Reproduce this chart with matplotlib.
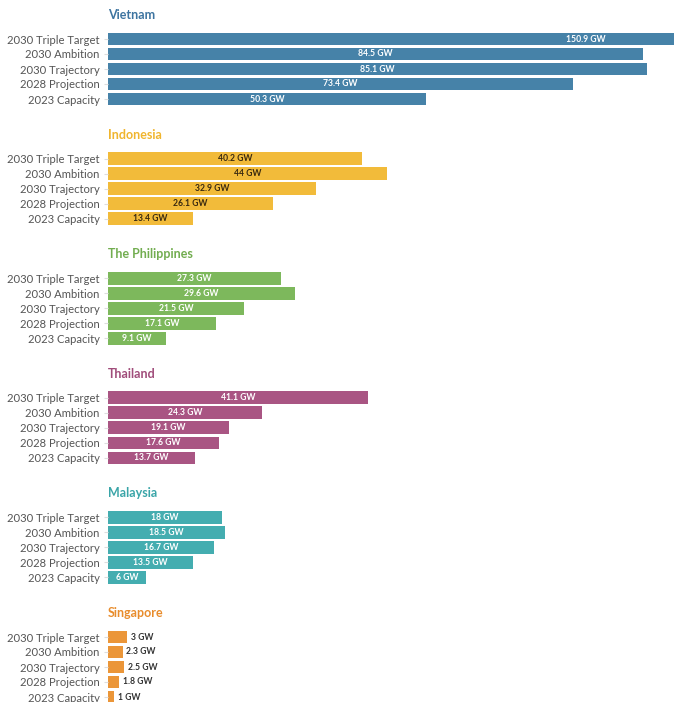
import matplotlib
matplotlib.use("Agg")
import matplotlib.pyplot as plt

plt.rcParams['font.family'] = ['Lato', 'DejaVu Sans']

categories = ["2030 Triple Target", "2030 Ambition", "2030 Trajectory",
              "2028 Projection", "2023 Capacity"]

countries = ["Vietnam", "Indonesia", "The Philippines", "Thailand", "Malaysia", "Singapore"]

vietnam = [150.9, 84.5, 85.1, 73.4, 50.3]
indonesia = [40.2, 44, 32.9, 26.1, 13.4]
philippines = [27.3, 29.6, 21.5, 17.1, 9.1]
thailand = [41.1, 24.3, 19.1, 17.6, 13.7]
malaysia = [18, 18.5, 16.7, 13.5, 6]
singapore = [3, 2.3, 2.5, 1.8, 1]

values = [vietnam, indonesia, philippines, thailand, malaysia, singapore]
colors = ["#4682a8", "#f2bb3a", "#7db85c", "#a95583", "#44adb0", "#eb9639"]
title_colors = ["#3d74a0", "#f0b52e", "#72ad50", "#a04c7a", "#3aa5a8", "#e88c2c"]
label_colors = ["white", "#3a2a10", "white", "white", "white", "#333333"]
inside = [True, True, True, True, True, False]

W, H = 674, 702
fig = plt.figure(figsize=(W / 100, H / 100), dpi=100)

x0 = 108
px_per_gw = 6.33
xmax = (W - x0) / px_per_gw
row = 15.0

for i, (name, vals) in enumerate(zip(countries, values)):
    first = 39 + 119.6 * i
    top = first - row / 2
    ax = fig.add_axes([x0 / W, 1 - (top + 5 * row) / H, (W - x0) / W, 5 * row / H])
    ax.barh(range(5), vals, height=0.84, color=colors[i])
    ax.set_xlim(0, xmax)
    ax.set_ylim(4.5, -0.5)
    ax.set_yticks(range(5))
    ax.set_yticklabels(categories, fontsize=8.1, color="#555555")
    ax.tick_params(axis="y", length=3, color="#dddddd", pad=3)
    ax.set_xticks([])
    for s in ax.spines.values():
        s.set_visible(False)
    for j, v in enumerate(vals):
        txt = f"{v:g} GW"
        if inside[i]:
            ax.text(v / 2, j, txt, ha="center", va="center", fontsize=6.2,
                    fontweight="bold", color=label_colors[i])
        else:
            ax.text(v + 0.6, j, txt, ha="left", va="center", fontsize=6.2,
                    fontweight="bold", color=label_colors[i])
    ax.text(0, -1.6, name, ha="left", va="center", fontsize=9,
            fontweight="bold", color=title_colors[i], clip_on=False)

fig.savefig("out.png", dpi=100)
